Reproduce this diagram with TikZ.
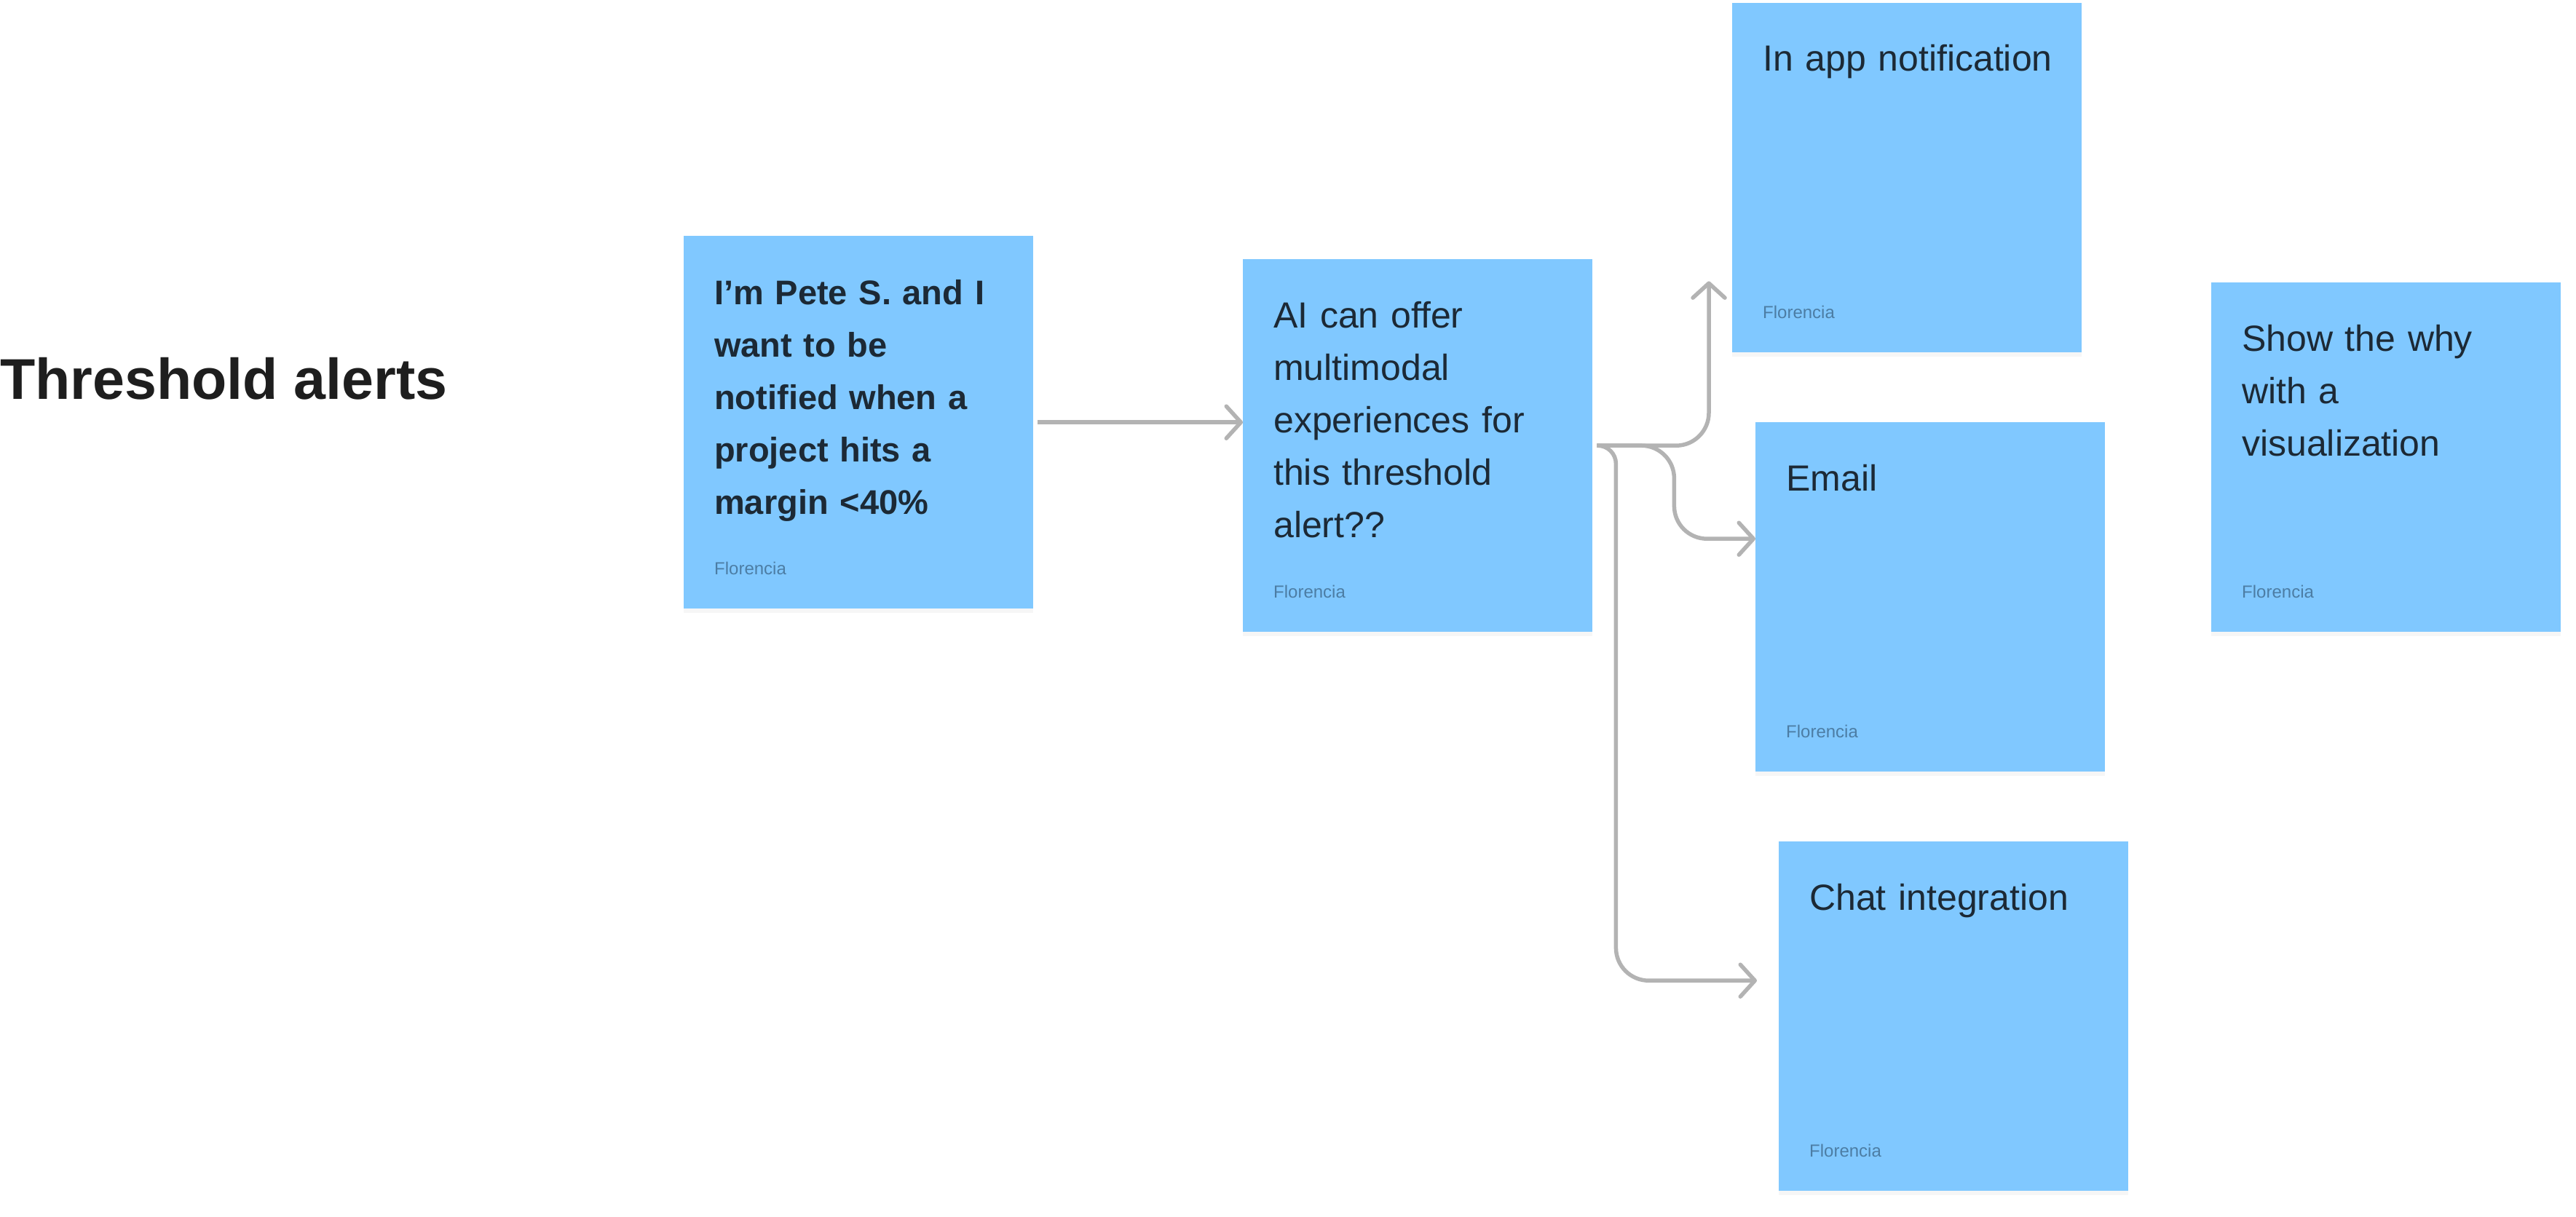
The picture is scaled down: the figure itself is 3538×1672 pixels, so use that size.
\documentclass[tikz,border=0pt]{standalone}
\usepackage{fontspec}
\setmainfont{Liberation Sans}
\usepackage{tikz}
\usetikzlibrary{positioning, arrows.meta, calc, shadows}
\definecolor{stickyblue}{HTML}{80C8FF}
\definecolor{inkdark}{HTML}{1C2935}
\definecolor{authorgray}{HTML}{4C7DA4}
\definecolor{linkgray}{HTML}{B3B3B3}
\definecolor{titleink}{HTML}{1E1E1E}

\begin{document}
\begin{tikzpicture}[x=1pt, y=-1pt,
  sticky/.style={fill=stickyblue, anchor=north west, inner sep=0pt,
                 minimum width=480pt, minimum height=480pt,
                 drop shadow={shadow xshift=0pt, shadow yshift=-6pt, opacity=0.07}},
  tall/.style={minimum height=512pt},
  note/.style={anchor=base west, inner sep=0pt, text width=420pt, align=left,
               text=inkdark, font=\fontsize{50}{72}\selectfont},
  boldnote/.style={note, font=\fontsize{47}{72}\selectfont\bfseries},
  author/.style={anchor=base west, inner sep=0pt, text=authorgray,
                 font=\fontsize{24}{28}\selectfont},
  link/.style={draw=linkgray, line width=5.5pt, rounded corners=45pt,
               -{Straight Barb[length=20pt, width=44pt, round]}}]
  \path[use as bounding box, fill=white] (0,0) rectangle (3538,1672);
  % heading
  \node[anchor=base west, inner sep=0pt, text=titleink,
        font=\fontsize{79}{90}\selectfont\bfseries] (title) at (0,548) {Threshold alerts};
  % stickies
  \node[sticky, tall] (pete) at (939,324) {};
  \node[sticky, tall] (ai) at (1707,356) {};
  \node[sticky] (inapp) at (2379,4) {};
  \node[sticky] (email) at (2411,580) {};
  \node[sticky] (chat) at (2443,1156) {};
  \node[sticky] (why) at (3037,388) {};
  % sticky texts
  \node[boldnote] (pete-t) at ($(pete.north west)+(42,94)$)
    {I’m Pete S. and I\\want to be\\notified when a\\project hits a\\margin <40\%};
  \node[note] (ai-t) at ($(ai.north west)+(42,94)$)
    {AI can offer\\multimodal\\experiences for\\this threshold\\alert??};
  \node[note] (inapp-t) at ($(inapp.north west)+(42,94)$) {In app notification};
  \node[note] (email-t) at ($(email.north west)+(42,94)$) {Email};
  \node[note] (chat-t) at ($(chat.north west)+(42,94)$) {Chat integration};
  \node[note] (why-t) at ($(why.north west)+(42,94)$) {Show the why\\with a\\visualization};
  \foreach \s in {pete, ai, inapp, email, chat, why}
    \node[author] (\s-a) at ($(\s.south west)+(42,-47)$) {Florencia};
  % connectors
  \coordinate (inapp-in) at ($(inapp.south west)+(-32,-98)$);
  \coordinate (email-in) at ($(email.west)+(0,-80)$);
  \coordinate (chat-in) at ($(chat.west)+(-30,-49)$);
  \draw[link, shorten <=6pt] (pete.east) -- (ai.west |- pete.east);
  \draw[link, shorten <=6pt] (ai.east) -- (inapp-in |- ai.east) -- (inapp-in);
  \draw[link, shorten <=6pt] (ai.east) -- ++(112,0) |- (email-in);
  \draw[link, shorten <=6pt, rounded corners=25pt] (ai.east) -- ++(32,0) -- ++(0,60)
    [rounded corners=45pt] |- (chat-in);
\end{tikzpicture}
\end{document}
